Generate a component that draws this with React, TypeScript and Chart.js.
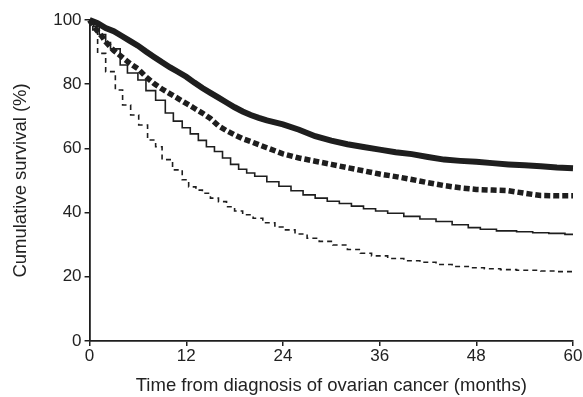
import { useEffect, useRef } from "react";
import { Chart, registerables } from "chart.js";

Chart.register(...registerables);

// Thick solid curve
const thickSolidTimes = [0, 1, 2, 3, 4, 5, 6, 7, 8, 9, 10, 11, 12, 13, 14, 15, 16, 17, 18, 19, 20, 21, 22, 24, 26, 28, 30, 32, 34, 36, 38, 40, 42, 44, 46, 48, 50, 52, 54, 56, 58, 60];
const thickSolidSurvival = [100, 99, 97.5, 96.5, 95, 93.5, 92, 90.2, 88.5, 86.8, 85.2, 83.8, 82.3, 80.5, 78.8, 77.3, 75.8, 74.3, 72.8, 71.5, 70.4, 69.5, 68.7, 67.5, 65.8, 63.8, 62.4, 61.3, 60.4, 59.6, 58.8, 58.2, 57.3, 56.5, 56.1, 55.8, 55.4, 55.0, 54.7, 54.4, 54.0, 53.8];

// Thick dashed curve
const thickDashedTimes = [0, 0.5, 1, 1.5, 2, 3, 4, 5, 6, 7, 8, 9, 10, 11, 12, 13, 14, 15, 16, 17, 18, 19, 20, 22, 24, 26, 28, 30, 32, 34, 36, 38, 40, 42, 44, 46, 48, 50, 52, 54, 56, 58, 60];
const thickDashedSurvival = [100, 98, 96.5, 95, 93.2, 90.5, 88.5, 86.5, 84.8, 82.3, 80.2, 78.5, 77, 75.5, 74, 72.5, 71, 69.3, 67, 65.5, 64.2, 63, 62.1, 60.2, 58.3, 57, 56, 55, 54, 53, 52, 51.2, 50.3, 49.3, 48.4, 47.7, 47.2, 47, 46.8, 46, 45.3, 45.2, 45.2];

// Thin solid curve
const thinSolidTimes = [0, 0.5, 1.2, 2, 2.6, 3.8, 4.7, 6, 7, 8.2, 9.4, 10.4, 11.5, 12.5, 13.5, 14.5, 15.5, 16.5, 17.5, 18.5, 19.5, 20.5, 22, 23.5, 25, 26.5, 28, 29.5, 31, 32.5, 34, 35.5, 37, 39, 41, 43, 45, 47, 48.5, 50.5, 53, 55, 57, 59, 60];
const thinSolidSurvival = [100, 98, 95.5, 93, 91, 86, 83.5, 81.3, 78, 75, 71, 68.5, 66.4, 64.5, 62.5, 60.5, 59, 57, 55, 53.5, 52.3, 51.3, 49.6, 48.2, 46.8, 45.5, 44.5, 43.5, 42.8, 42, 41.2, 40.5, 39.8, 38.8, 38, 37.2, 36.2, 35.3, 34.8, 34.3, 34, 33.7, 33.5, 33.2, 33.2];

// Thin dashed curve
const thinDashedTimes = [0, 0.4, 1, 2, 3.2, 4.1, 5.1, 6.1, 7.2, 8.2, 9, 10.3, 11.5, 12.3, 13.2, 14, 15, 16, 17, 18, 19, 20.3, 21.5, 23, 24, 25.5, 27, 28.5, 30.2, 32, 33.6, 35, 37, 39, 41, 43, 45, 47, 49, 51, 53, 56, 58, 60];
const thinDashedSurvival = [100, 96.5, 89.6, 83.9, 78.2, 73.5, 70.4, 67.3, 62.6, 60.5, 56.5, 53.3, 50.2, 48, 47, 46, 44.5, 43.4, 41.8, 40.5, 39.3, 38.2, 36.8, 35.5, 34.6, 33.3, 32, 31, 29.9, 28.5, 27.3, 26.5, 25.7, 25, 24.5, 23.8, 23.2, 22.8, 22.5, 22.2, 22.0, 21.8, 21.6, 21.6];

const xTicks = [0, 12, 24, 36, 48, 60];
const yTicks = [0, 20, 40, 60, 80, 100];

const xTitle = "Time from diagnosis of ovarian cancer (months)";
const yTitle = "Cumulative survival (%)";

const toPoints = (xs: number[], ys: number[]) => xs.map((x, i) => ({ x, y: ys[i] }));

export default function App() {
  const ref = useRef<HTMLCanvasElement | null>(null);

  useEffect(() => {
    if (!ref.current) return;
    const ink = "#1e1e1e";
    const family = "Liberation Sans, Arial, Helvetica, sans-serif";
    const chart = new Chart(ref.current, {
      type: "line",
      data: {
        datasets: [
          {
            data: toPoints(thinDashedTimes, thinDashedSurvival),
            borderColor: ink,
            borderWidth: 1.6,
            borderDash: [5, 4],
            stepped: "before",
            pointRadius: 0,
            clip: false as any,
          },
          {
            data: toPoints(thinSolidTimes, thinSolidSurvival),
            borderColor: ink,
            borderWidth: 1.6,
            stepped: "before",
            pointRadius: 0,
            clip: false as any,
          },
          {
            data: toPoints(thickDashedTimes, thickDashedSurvival),
            borderColor: ink,
            borderWidth: 5.5,
            borderDash: [6, 3],
            pointRadius: 0,
            clip: false as any,
          },
          {
            data: toPoints(thickSolidTimes, thickSolidSurvival),
            borderColor: ink,
            borderWidth: 6,
            pointRadius: 0,
            clip: false as any,
          },
        ],
      },
      options: {
        animation: false,
        responsive: false,
        maintainAspectRatio: false,
        layout: { padding: { top: 20, right: 10, bottom: 0, left: 1 } },
        plugins: { legend: { display: false }, tooltip: { enabled: false } },
        scales: {
          x: {
            type: "linear",
            min: 0,
            max: 60,
            afterBuildTicks: (axis: any) => {
              axis.ticks = xTicks.map((v) => ({ value: v }));
            },
            ticks: {
              color: "#222",
              font: { family, size: 17 },
              padding: 0,
              maxRotation: 0,
            },
            grid: { drawOnChartArea: false, drawTicks: true, tickLength: 5, color: ink, lineWidth: 1.5 },
            border: { display: true, color: ink, width: 1.8 },
            title: {
              display: true,
              text: xTitle,
              color: "#222",
              font: { family, size: 18.5 },
              padding: { top: 8.5, bottom: 0 },
            },
          },
          y: {
            type: "linear",
            min: 0,
            max: 100,
            afterBuildTicks: (axis: any) => {
              axis.ticks = yTicks.map((v) => ({ value: v }));
            },
            ticks: {
              color: "#222",
              font: { family, size: 17 },
              padding: 3,
            },
            grid: { drawOnChartArea: false, drawTicks: true, tickLength: 5, color: ink, lineWidth: 1.5 },
            border: { display: true, color: ink, width: 1.8 },
            title: {
              display: true,
              text: yTitle,
              color: "#222",
              font: { family, size: 18.5 },
              padding: { top: 9, bottom: 18 },
            },
          },
        },
      },
    });
    return () => chart.destroy();
  }, []);

  return (
    <div style={{ position: "fixed", left: 0, top: 0, width: 583, height: 397, background: "#fff" }}>
      <canvas ref={ref} width={583} height={397} style={{ width: 583, height: 397, display: "block" }} />
    </div>
  );
}
